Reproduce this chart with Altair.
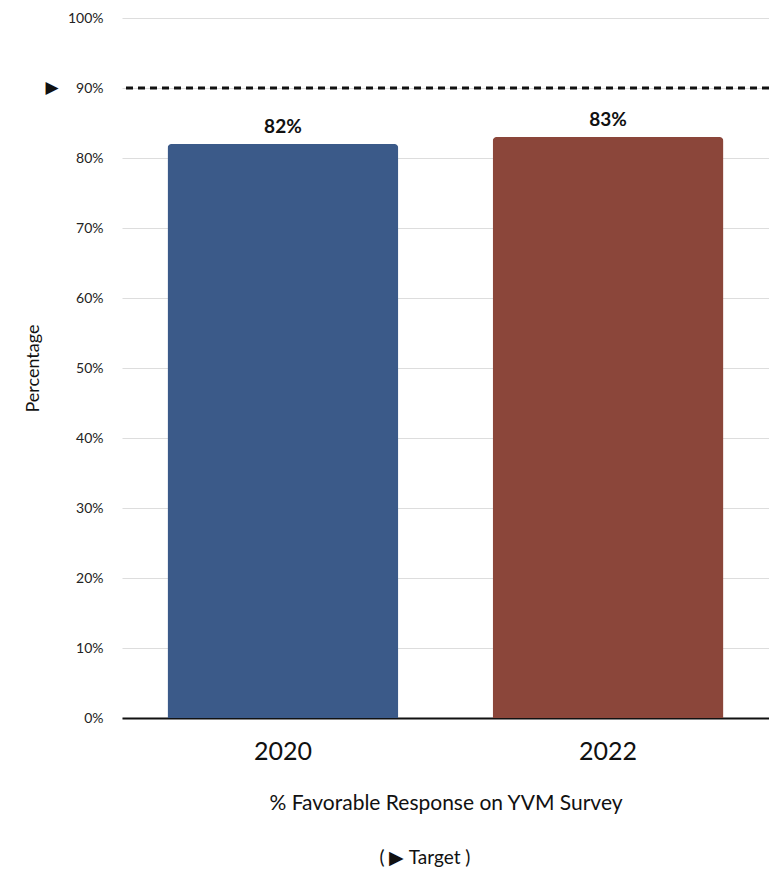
import altair as alt
import pandas as pd

years = ["2020", "2022"]
values = [82, 83]
colors = ["#3B5A89", "#8B463A"]
target = 90

df = pd.DataFrame({"year": years, "value": values, "label": [f"{v}%" for v in values]})
tdf = pd.DataFrame({"target": [target]})

FONT = "Lato"

x = alt.X("year:N", sort=years,
          scale=alt.Scale(paddingInner=0.29, paddingOuter=0.14),
          axis=alt.Axis(title="% Favorable Response on YVM Survey", labelAngle=0,
                        labelFontSize=25, labelPadding=21, labelColor="#111",
                        titleFontSize=21, titlePadding=28, titleFontWeight="normal", titleColor="#111",
                        ticks=False, domainColor="#111", domainWidth=2, grid=False))
y = alt.Y("value:Q", scale=alt.Scale(domain=[0, 100]),
          axis=alt.Axis(title="Percentage", values=list(range(0, 101, 10)),
                        labelExpr="datum.value + '%'", labelFontSize=14, labelColor="#222",
                        labelPadding=19, ticks=False, domain=False,
                        gridColor="#dddddd", gridWidth=1,
                        titleFontSize=18, titleFontWeight="normal", titleColor="#111", titlePadding=25))

bars = alt.Chart(df).mark_bar(cornerRadiusTopLeft=4, cornerRadiusTopRight=4).encode(
    x=x, y=y,
    color=alt.Color("year:N", scale=alt.Scale(domain=years, range=colors), legend=None),
)

labels = alt.Chart(df).mark_text(fontSize=19, fontWeight="bold", baseline="bottom", dy=-7,
                                  font=FONT, color="#111").encode(
    x=alt.X("year:N", sort=years), y=alt.Y("value:Q"), text="label:N")

rule = alt.Chart(tdf).mark_rule(color="#111", strokeWidth=3, strokeDash=[7, 5]).encode(
    y=alt.Y("target:Q"))

tri = alt.Chart(tdf).mark_text(text="▶", fontSize=17, color="#111", font="DejaVu Sans").encode(
    y=alt.Y("target:Q"), x=alt.value(-70))

legend = alt.Chart(tdf).mark_text(text="( ▶ Target )", fontSize=19, color="#111", font=FONT).encode(
    x=alt.value(303), y=alt.value(840))

chart = alt.layer(bars, labels, rule, tri, legend).properties(
    width=647, height=700,
    autosize=alt.AutoSizeParams(type="none"),
    padding={"left": 122, "top": 18, "right": 0, "bottom": 155},
).configure(font=FONT
).configure_view(strokeWidth=0
).configure_axisY(domain=False, ticks=False
).configure_axisX(grid=False)

chart.save("out.html", embed_options={"renderer": "svg", "actions": False})
